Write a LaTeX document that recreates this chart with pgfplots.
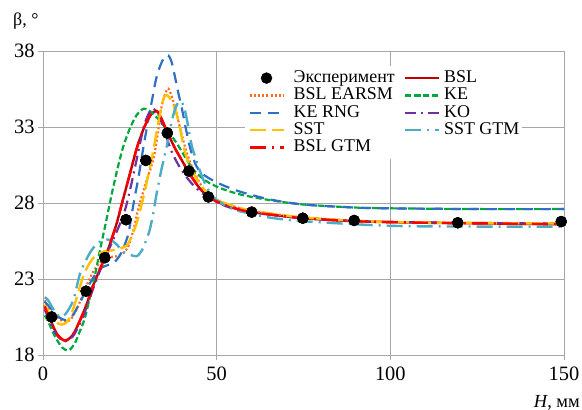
\documentclass[border=0pt]{standalone}
\usepackage{fontspec}
\setmainfont{Liberation Serif}
\usepackage{pgfplots}
\pgfplotsset{compat=1.18}
\definecolor{cBSL}{HTML}{C00000}
\definecolor{cEARSM}{HTML}{FF6A1F}
\definecolor{cKE}{HTML}{00A63E}
\definecolor{cRNG}{HTML}{2F6FC4}
\definecolor{cKO}{HTML}{7030A0}
\definecolor{cSST}{HTML}{FFC000}
\definecolor{cSSTGTM}{HTML}{4BACC6}
\definecolor{cBSLGTM}{HTML}{FF0000}
\definecolor{cGrid}{HTML}{A6A6A6}
\begin{document}
\begin{tikzpicture}
\begin{axis}[
  scale only axis, width=521bp, height=304bp,
  xmin=0, xmax=150, ymin=18, ymax=38,
  xtick={0,50,100,150}, ytick={18,23,28,33,38},
  grid=major, grid style={line width=0.8bp, color=cGrid},
  axis line style={line width=0.8bp, cGrid},
  tick style={line width=0.8bp, cGrid},
  tick align=outside, major tick length=5bp, tick pos=left,
  ticklabel style={font=\fontsize{20.5}{20.5}\selectfont},
  xticklabel style={yshift=-3bp},
  /pgf/number format/assume math mode=true,
  clip=false,
  xlabel={\textit{H}, мм},
  xlabel style={at={(axis description cs:1,0)}, anchor=base east, xshift=16bp, yshift=-52bp, font=\fontsize{18.5}{18.5}\selectfont, inner sep=0pt},
  legend columns=2,
  legend style={at={(axis description cs:0.388,0.95)}, anchor=north west, draw=none, fill=white,
    font=\fontsize{18}{18}\selectfont, inner xsep=3bp, inner ysep=3bp,
    nodes={inner sep=0pt, text height=13bp, text depth=4.4bp},
    cells={anchor=west},
    /tikz/column 1/.style={column sep=9bp},
    /tikz/column 2/.style={column sep=9bp},
    /tikz/column 3/.style={column sep=4bp}},
  legend image code/.code={\draw[mark repeat=2,mark phase=2,#1] plot coordinates {(0bp,0bp)(17bp,0bp)(34bp,0bp)};},
]
% experiment (legend entry)
\addplot[only marks, mark=*, mark size=5.5bp, black] coordinates {
(2.5,20.5)(12.4,22.2)(17.8,24.4)(23.9,26.9)(29.6,30.8)(35.8,32.6)(42,30.1)(47.6,28.4)(60.1,27.4)(74.8,27.0)(89.6,26.85)(119.4,26.7)(149.2,26.78)};
\addlegendentry{Эксперимент}
% BSL
\addplot[cBSL, line width=2.4bp, smooth] coordinates {
(0.5,21.3)(2,20.4)(4,19.4)(6.3,18.95)(8.5,19.3)(10.5,20.2)(12.5,21.3)(14.5,22.6)(16.5,23.7)(18.5,24.8)(21,26.5)(23,28.2)(25,29.9)(27,31.6)(29,32.9)(31,33.8)(32.7,34.05)(34,33.6)(35.7,32.7)(38,31.6)(40,30.8)(42,30.0)(45,29.0)(48,28.35)(52,27.9)(56,27.6)(60,27.4)(67,27.2)(75,27.0)(90,26.8)(110,26.7)(130,26.65)(150,26.6)};
\addlegendentry{BSL}
% BSL EARSM
\addplot[cEARSM, line width=2.2bp, dash pattern=on 2bp off 2.2bp, smooth] coordinates {
(0.5,21.6)(2,21.0)(4,20.5)(6,20.2)(7.8,20.3)(9.5,20.9)(11,21.7)(12.6,22.6)(14.5,23.5)(16.5,24.1)(18.5,24.4)(21.2,24.5)(23,24.7)(24.5,25.1)(26,26.2)(27.3,27.5)(28.4,28.4)(30,29.6)(31.8,30.9)(33,32.5)(34.2,34.4)(35.8,35.5)(36.8,35.2)(38,34.3)(39.5,32.9)(41,31.6)(42.5,30.6)(44,29.8)(46,29.0)(48,28.5)(52,28.0)(56,27.7)(60,27.5)(75,27.05)(100,26.75)(150,26.65)};
\addlegendentry{BSL EARSM}
% KE
\addplot[cKE, line width=2.2bp, dash pattern=on 6bp off 3bp, smooth] coordinates {
(0.5,20.6)(1.5,20.2)(3.5,19.2)(5.5,18.5)(7.3,18.3)(9,18.7)(10.5,19.5)(12,20.4)(13.5,21.8)(15,23.3)(16.5,25.0)(18,26.6)(19.8,28.6)(21.5,30.3)(23.1,31.7)(25,32.9)(27,33.8)(28.9,34.2)(30.5,34.1)(32,33.8)(34,33.3)(36,32.7)(38,32.1)(39.4,31.6)(41.5,30.8)(43.3,30.2)(45.5,29.7)(48,29.3)(52,28.9)(57,28.55)(65,28.2)(75,27.9)(90,27.7)(100,27.65)(125,27.6)(150,27.6)};
\addlegendentry{KE}
% KE RNG
\addplot[cRNG, line width=2.2bp, dash pattern=on 11bp off 7bp, smooth] coordinates {
(0.5,21.5)(2.5,21.0)(4.5,20.5)(6.5,20.3)(8.5,20.6)(10.5,21.4)(12.5,22.3)(14.5,23.1)(16.5,23.7)(18.5,23.9)(20.5,24.1)(22.5,24.7)(24.5,25.9)(25.5,27.2)(26.5,28.5)(27.5,29.7)(29,31.8)(30.5,33.7)(31.5,34.9)(32.5,36.1)(33.7,37.0)(35,37.6)(36.1,37.7)(37,37.3)(38,36.3)(39,35.2)(40,34.2)(41.4,32.6)(42.5,31.5)(44,30.5)(45.5,30.0)(48,29.6)(52,29.15)(56.7,28.75)(65,28.25)(75,27.9)(90,27.7)(100,27.65)(125,27.6)(150,27.6)};
\addlegendentry{KE RNG}
% KO
\addplot[cKO, line width=2.2bp, dash pattern=on 11bp off 5bp on 2bp off 5bp, smooth] coordinates {
(0.5,21.0)(2,20.2)(4,19.3)(6.3,18.9)(8.5,19.2)(10.5,20.0)(12.5,21.1)(14.5,22.4)(16.5,23.6)(18.5,24.7)(21,26.0)(23.3,27.3)(25,28.8)(27,30.9)(29,33.0)(30.5,33.9)(31.8,34.2)(33.5,33.7)(35,32.7)(37,31.4)(39,30.5)(41,29.8)(44,29.0)(48,28.3)(52,27.85)(56,27.55)(60,27.4)(75,27.0)(100,26.75)(150,26.65)};
\addlegendentry{KO}
% SST
\addplot[cSST, line width=2.4bp, dash pattern=on 16bp off 6bp, smooth] coordinates {
(0.5,21.3)(2,20.7)(3.5,20.2)(5.4,20.0)(7,20.2)(8.5,20.9)(10,22.0)(11.6,23.2)(13.3,24.0)(15,24.5)(17.5,24.8)(20.2,24.9)(22,25.0)(24.1,25.2)(25.5,25.8)(27,26.7)(28.5,28.0)(30,29.5)(31.8,31.5)(33.3,33.4)(34.6,34.8)(35.6,35.1)(36.5,34.9)(37.5,34.5)(39,33.4)(40.4,31.8)(41.5,30.9)(43,30.1)(45,29.3)(47.5,28.6)(50,28.2)(55,27.8)(60,27.5)(75,27.05)(100,26.75)(150,26.65)};
\addlegendentry{SST}
% SST GTM
\addplot[cSSTGTM, line width=2.4bp, dash pattern=on 16bp off 6bp on 2bp off 6bp, smooth] coordinates {
(0.5,21.8)(1.5,21.6)(3,21.0)(4.9,20.5)(6.5,20.7)(8.7,21.6)(10.6,23.3)(12.3,24.2)(14,24.9)(16,25.4)(18.3,25.6)(20,25.5)(21.5,25.2)(23,24.8)(25,24.6)(27,24.5)(28.5,24.9)(29.8,25.6)(30.8,26.3)(31.8,27.4)(32.7,28.6)(34,30.1)(35.6,31.7)(37,33.3)(38.2,34.3)(39.4,34.7)(40.5,34.4)(41.5,33.4)(42.8,31.8)(44,30.9)(45.2,30.1)(47,29.1)(49,28.4)(52,27.9)(56,27.5)(60,27.3)(65,27.05)(75,26.8)(100,26.5)(125,26.45)(150,26.45)};
\addlegendentry{SST GTM}
% BSL GTM
\addplot[cBSLGTM, line width=2.4bp, dash pattern=on 16bp off 6bp on 2bp off 6bp, smooth] coordinates {
(0.5,21.2)(2,20.3)(4,19.35)(6.3,18.95)(8.5,19.3)(10.5,20.2)(12.5,21.3)(14.5,22.6)(16.5,23.7)(18.5,24.8)(21,26.5)(23,28.2)(25,29.9)(27,31.6)(29,32.9)(31,33.8)(32.7,34.05)(34,33.6)(35.7,32.7)(38,31.6)(40,30.8)(42,30.0)(45,29.0)(48,28.35)(52,27.9)(56,27.6)(60,27.4)(67,27.2)(75,27.0)(90,26.8)(110,26.7)(130,26.65)(150,26.6)};
\addlegendentry{BSL GTM}
% experiment on top
\addplot[only marks, mark=*, mark size=5.5bp, black, forget plot] coordinates {
(2.5,20.5)(12.4,22.2)(17.8,24.4)(23.9,26.9)(29.6,30.8)(35.8,32.6)(42,30.1)(47.6,28.4)(60.1,27.4)(74.8,27.0)(89.6,26.85)(119.4,26.7)(149.2,26.78)};
\node[anchor=base west, inner sep=0pt, font=\fontsize{18}{18}\selectfont, xshift=-30bp, yshift=25bp] at (axis description cs:0,1) {β, °};
\end{axis}
\pgfresetboundingbox
\path[use as bounding box] (-43bp,-55bp) rectangle (539bp,355bp);
\end{tikzpicture}
\end{document}
